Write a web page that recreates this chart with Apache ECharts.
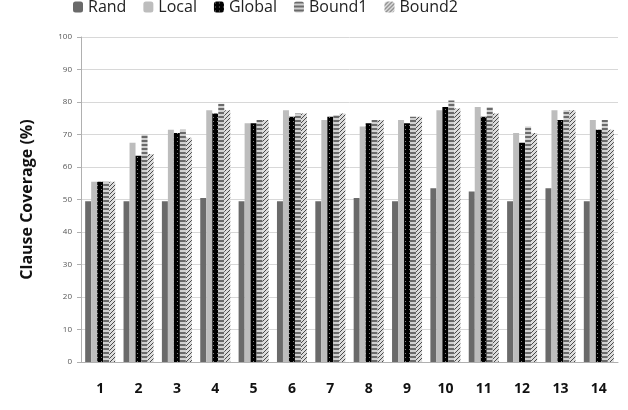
<!DOCTYPE html>
<html>
<head>
<meta charset="utf-8">
<script src="https://cdn.jsdelivr.net/npm/echarts@6/dist/echarts.min.js"></script>
<style>
  html, body { margin: 0; padding: 0; background: #fff; }
  #chart { width: 628px; height: 410px; }
</style>
</head>
<body>
<div id="chart"></div>
<script>
var categories = ['1', '2', '3', '4', '5', '6', '7', '8', '9', '10', '11', '12', '13', '14']
var seriesNames = ['Rand', 'Local', 'Global', 'Bound1', 'Bound2']
var rand = [49.5, 49.5, 49.5, 50.5, 49.5, 49.5, 49.5, 50.5, 49.5, 53.5, 52.5, 49.5, 53.5, 49.5]
var local = [55.5, 67.5, 71.5, 77.5, 73.5, 77.5, 74.5, 72.5, 74.5, 77.5, 78.5, 70.5, 77.5, 74.5]
var global = [55.5, 63.5, 70.5, 76.5, 73.5, 75.5, 75.5, 73.5, 73.5, 78.5, 75.5, 67.5, 74.5, 71.5]
var bound1 = [55.5, 70, 71.5, 79.5, 74.5, 76.5, 76, 74.5, 75.5, 80.5, 78.5, 72.5, 77.5, 74.5]
var bound2 = [55.5, 64, 69, 77.5, 74.5, 76.5, 76.5, 74.5, 75.5, 78, 76.5, 70.5, 77.5, 71.5]

// small canvases used as fill patterns
function makePattern(draw, w, h) {
  var c = document.createElement('canvas')
  c.width = w
  c.height = h
  draw(c.getContext('2d'))
  return { image: c, repeat: 'repeat' }
}
var globalFill = makePattern(function(ctx) {
  ctx.fillStyle = '#000'
  ctx.fillRect(0, 0, 4, 4)
  ctx.fillStyle = '#808080'
  ctx.fillRect(1, 1, 1, 1)
}, 4, 4)
var bound1Fill = makePattern(function(ctx) {
  ctx.fillStyle = '#d0d0d0'
  ctx.fillRect(0, 0, 4, 4)
  ctx.fillStyle = '#6a6a6a'
  ctx.fillRect(0, 0, 4, 2)
}, 4, 4)
var bound2Fill = makePattern(function(ctx) {
  ctx.fillStyle = '#dcdcdc'
  ctx.fillRect(0, 0, 4, 4)
  ctx.fillStyle = '#4a4a4a'
  ctx.fillRect(3, 0, 1, 1)
  ctx.fillRect(2, 1, 1, 1)
  ctx.fillRect(1, 2, 1, 1)
  ctx.fillRect(0, 3, 1, 1)
}, 4, 4)

var fills = ['#6a6a6a', '#bdbdbd', globalFill, bound1Fill, bound2Fill]
var values = [rand, local, global, bound1, bound2]

var chart = echarts.init(document.getElementById('chart'))
chart.setOption({
  backgroundColor: '#fff',
  animation: false,
  legend: {
    top: -6,
    left: 68,
    itemWidth: 10,
    itemHeight: 11,
    itemGap: 17,
    textStyle: {
      fontFamily: 'Open Sans',
      fontSize: 16,
      color: '#222'
    },
    data: seriesNames
  },
  grid: {
    left: 81,
    right: 10,
    top: 37,
    bottom: 48
  },
  xAxis: {
    type: 'category',
    data: categories,
    axisLine: { lineStyle: { color: '#b0b0b0' } },
    axisTick: { show: false },
    axisLabel: {
      margin: 20,
      fontFamily: 'Open Sans',
      fontWeight: 'bold',
      fontSize: 14,
      color: '#111'
    }
  },
  yAxis: {
    type: 'value',
    min: 0,
    max: 100,
    interval: 10,
    name: 'Clause Coverage (%)',
    nameLocation: 'middle',
    nameGap: 46,
    nameTextStyle: {
      fontFamily: 'Open Sans',
      fontWeight: 'bold',
      fontSize: 16,
      color: '#111'
    },
    axisLine: { show: true, lineStyle: { color: '#b0b0b0' } },
    axisTick: { show: true, length: 4, lineStyle: { color: '#b0b0b0' } },
    axisLabel: {
      fontFamily: 'Open Sans',
      fontSize: 8,
      color: '#555',
      margin: 9
    },
    splitLine: { lineStyle: { color: '#d8d8d8' } }
  },
  series: seriesNames.map(function(name, i) {
    return {
      name: name,
      type: 'bar',
      data: values[i],
      barWidth: 6,
      barGap: i === 0 ? '12%' : '0%',
      itemStyle: { color: fills[i] }
    }
  })
})
</script>
</body>
</html>
